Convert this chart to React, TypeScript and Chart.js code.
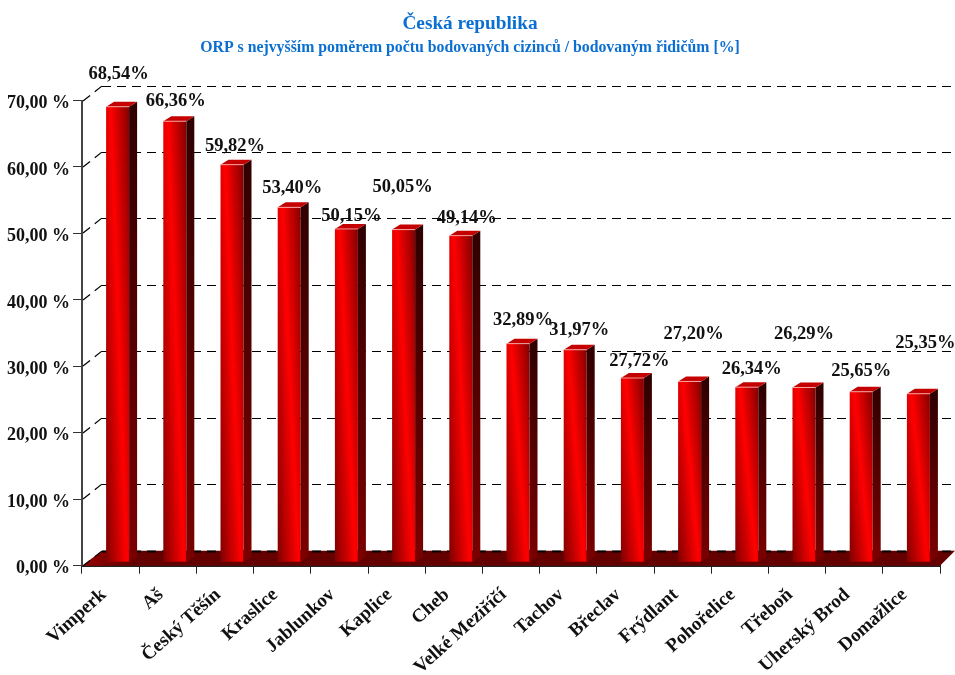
import React, { useEffect, useRef } from "react";
import { Chart, registerables } from "chart.js";

Chart.register(...registerables);

const titleText = "Česká republika";
const subtitleText = "ORP s nejvyšším poměrem počtu bodovaných cizinců / bodovaným řidičům [%]";
const categories = ["Vimperk", "Aš", "Český Těšín", "Kraslice", "Jablunkov", "Kaplice", "Cheb", "Velké Meziříčí", "Tachov", "Břeclav", "Frýdlant", "Pohořelice", "Třeboň", "Uherský Brod", "Domažlice"];
const shares = [68.54, 66.36, 59.82, 53.4, 50.15, 50.05, 49.14, 32.89, 31.97, 27.72, 27.2, 26.34, 26.29, 25.65, 25.35];
const labelShiftX = [8, 8, 10, 10, 12, 6, 13, 12, 11, 14, 11, 12, 7, 7, 14];
const labelShiftY = [-36, -23, -22, -23, -16, -46, -21, -27, -23, -20, -51, -21, -57, -24, -54];

const SERIF = "'Liberation Serif', serif";
const DEPTH_X = 20;
const DEPTH_Y = 15;

const fmt = (v: number) => v.toFixed(2).replace(".", ",");

const wallPlugin = {
  id: "wall3d",
  beforeDatasetsDraw(chart: any) {
    const { ctx, chartArea } = chart;
    const y = chart.scales.y;
    const left = chartArea.left;
    const right = chartArea.right;
    const zero = y.getPixelForValue(0);
    ctx.save();
    // floor
    const floorGrad = ctx.createLinearGradient(left, 0, left + 50, 0);
    floorGrad.addColorStop(0, "#980000");
    floorGrad.addColorStop(1, "#640000");
    ctx.fillStyle = floorGrad;
    ctx.beginPath();
    ctx.moveTo(left, zero);
    ctx.lineTo(left + DEPTH_X, zero - DEPTH_Y);
    ctx.lineTo(right + 15, zero - DEPTH_Y);
    ctx.lineTo(right, zero);
    ctx.closePath();
    ctx.fill();
    // dashed back wall grid lines and their diagonals
    ctx.strokeStyle = "#000000";
    ctx.lineWidth = 1;
    ctx.setLineDash([9, 6]);
    y.ticks.forEach((t: any) => {
      const py = Math.round(y.getPixelForValue(t.value));
      ctx.lineWidth = 1.2;
      ctx.beginPath();
      ctx.moveTo(left + 1, py);
      ctx.lineTo(left + DEPTH_X, py - DEPTH_Y);
      ctx.stroke();
      ctx.lineWidth = t.value === 0 ? 2 : 1;
      ctx.beginPath();
      ctx.moveTo(left + DEPTH_X, py - DEPTH_Y + 0.5);
      ctx.lineTo(955, py - DEPTH_Y + 0.5);
      ctx.stroke();
    });
    ctx.restore();
  },
  afterDatasetsDraw(chart: any) {
    const { ctx } = chart;
    const meta = chart.getDatasetMeta(0);
    ctx.save();
    meta.data.forEach((el: any) => {
      const w = 23;
      const sx = 8;
      const sy = 5;
      const xL = el.x + 7 - w / 2;
      const xR = xL + w;
      const top = el.y - 3.5;
      const bot = el.base - 3.5;
      const h = bot - top;
      // front face, diagonal shading
      const slope = (w * 0.7) / h;
      const cx = xL + w * 0.55;
      const cy = top + h / 2;
      const reach = 26;
      const g = ctx.createLinearGradient(cx - reach, cy + reach * slope, cx + reach, cy - reach * slope);
      g.addColorStop(0, "#600000");
      g.addColorStop(0.5, "#ff0000");
      g.addColorStop(1, "#500000");
      ctx.fillStyle = g;
      ctx.fillRect(xL, top, w, h);
      // side face
      const gs = ctx.createLinearGradient(0, top, 0, bot);
      gs.addColorStop(0, "#300000");
      gs.addColorStop(1, "#7c0000");
      ctx.fillStyle = gs;
      ctx.beginPath();
      ctx.moveTo(xR, top);
      ctx.lineTo(xR + sx, top - sy);
      ctx.lineTo(xR + sx, bot - sy);
      ctx.lineTo(xR, bot);
      ctx.closePath();
      ctx.fill();
      // top face
      ctx.fillStyle = "#c40000";
      ctx.beginPath();
      ctx.moveTo(xL, top);
      ctx.lineTo(xL + sx, top - sy);
      ctx.lineTo(xR + sx, top - sy);
      ctx.lineTo(xR, top);
      ctx.closePath();
      ctx.fill();
      ctx.strokeStyle = "rgba(255,190,190,0.8)";
      ctx.lineWidth = 1;
      ctx.beginPath();
      ctx.moveTo(xL, top);
      ctx.lineTo(xR, top);
      ctx.stroke();
    });
    // value labels
    ctx.font = `bold 18.5px ${SERIF}`;
    ctx.fillStyle = "#111111";
    ctx.textAlign = "center";
    ctx.textBaseline = "middle";
    meta.data.forEach((el: any, i: number) => {
      ctx.fillText(`${fmt(shares[i])}%`, el.x + labelShiftX[i], el.y + labelShiftY[i]);
    });
    ctx.restore();
  },
};

export default function App() {
  const ref = useRef<HTMLCanvasElement | null>(null);
  useEffect(() => {
    const chart = new Chart(ref.current as HTMLCanvasElement, {
      type: "bar",
      plugins: [wallPlugin],
      data: {
        labels: categories,
        datasets: [
          {
            data: shares,
            backgroundColor: "rgba(0,0,0,0)",
            borderWidth: 0,
            barThickness: 23,
          },
        ],
      },
      options: {
        responsive: false,
        animation: false,
        layout: { padding: { left: 0, right: 15, top: 0, bottom: 0 } },
        plugins: {
          legend: { display: false },
          tooltip: { enabled: false },
          title: {
            display: true,
            text: titleText,
            color: "#0b6fd2",
            font: { family: SERIF, size: 19.3, weight: "bold", lineHeight: 1.2 },
            padding: { top: 12, bottom: 3 },
          },
          subtitle: {
            display: true,
            text: subtitleText,
            color: "#0b6fd2",
            font: { family: SERIF, size: 15.8, weight: "bold", lineHeight: 1.2 },
            padding: { top: 0, bottom: 43.4 },
          },
        },
        scales: {
          x: {
            offset: true,
            afterFit: (s: any) => {
              s.height = 109.3;
            },
            grid: { display: true, offset: true, drawOnChartArea: false, drawTicks: true, tickLength: 8, color: "#222222" },
            border: { display: true, color: "#222222", width: 2 },
            ticks: {
              minRotation: 42,
              maxRotation: 42,
              autoSkip: false,
              padding: 10,
              labelOffset: -7,
              color: "#111111",
              font: { family: SERIF, size: 19, weight: "bold" },
            },
          },
          y: {
            min: 0,
            max: 70,
            afterFit: (s: any) => {
              s.width = 82;
            },
            grid: { display: true, drawOnChartArea: false, drawTicks: true, tickLength: 9, color: "#333333" },
            border: { display: true, color: "#444444", width: 2 },
            ticks: {
              stepSize: 10,
              padding: 3,
              labelOffset: 3,
              color: "#111111",
              font: { family: SERIF, size: 18, weight: "bold" },
              callback: (v: any) => `${fmt(Number(v))} %`,
            },
          },
        },
      },
    } as any);
    return () => chart.destroy();
  }, []);
  return (
    <div style={{ position: "absolute", left: 0, top: 0, width: 955, height: 675, background: "#ffffff" }}>
      <canvas ref={ref} width={955} height={675} style={{ display: "block" }} />
    </div>
  );
}
